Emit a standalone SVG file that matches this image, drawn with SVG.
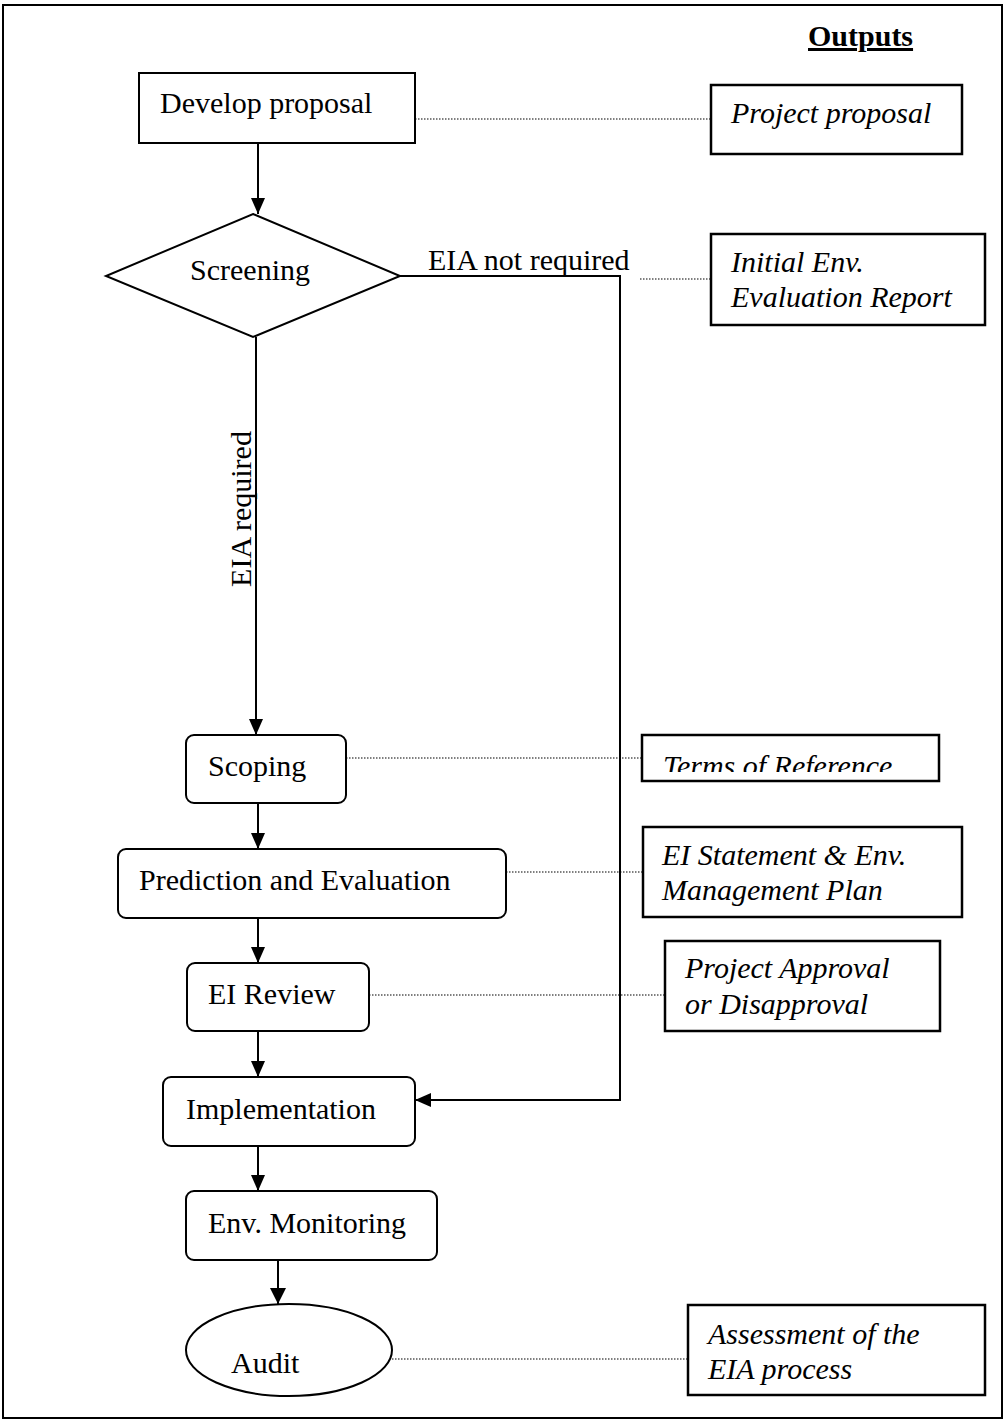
<svg xmlns="http://www.w3.org/2000/svg" width="1005" height="1421" viewBox="0 0 1005 1421">
<style>
text{font-family:"Liberation Serif","Times New Roman",serif;font-size:30px;fill:#000}
.it{font-style:italic}
.box{fill:#fff;stroke:#000;stroke-width:2}
.out{fill:#fff;stroke:#000;stroke-width:2.5}
.ln{fill:none;stroke:#000;stroke-width:2}
.dot{fill:none;stroke:#000;stroke-width:1.2;stroke-dasharray:1.5 1.5}
</style>
<defs>
<marker id="ah" viewBox="0 0 16 14" refX="16" refY="7" markerWidth="16" markerHeight="14" markerUnits="userSpaceOnUse" orient="auto">
<path d="M0,0 L16,7 L0,14 Z" fill="#000"/>
</marker>
<marker id="ah2" viewBox="0 0 16 16" refX="16" refY="8" markerWidth="16" markerHeight="16" markerUnits="userSpaceOnUse" orient="auto">
<path d="M0,0 L16,8 L0,16 Z" fill="#000"/>
</marker>
<clipPath id="torclip"><rect x="643" y="736" width="296" height="36"/></clipPath>
</defs>
<rect x="3" y="5" width="999" height="1413" fill="#fff" stroke="#000" stroke-width="2"/>
<g id="outputs-title">
<text x="808" y="46" font-weight="bold" text-decoration="underline">Outputs</text>
</g>
<g id="connectors">
<line class="ln" x1="258" y1="143" x2="258" y2="214" marker-end="url(#ah)"/>
<line class="ln" x1="256" y1="337" x2="256" y2="735" marker-end="url(#ah)"/>
<polyline class="ln" points="400,276 620,276 620,1100 415,1100" marker-end="url(#ah)"/>
<line class="ln" x1="258" y1="803" x2="258" y2="849" marker-end="url(#ah)"/>
<line class="ln" x1="258" y1="918" x2="258" y2="963" marker-end="url(#ah)"/>
<line class="ln" x1="258" y1="1031" x2="258" y2="1077" marker-end="url(#ah)"/>
<line class="ln" x1="258" y1="1146" x2="258" y2="1191" marker-end="url(#ah)"/>
<line class="ln" x1="278" y1="1260" x2="278" y2="1304" stroke-width="2.5" marker-end="url(#ah2)"/>
<line class="dot" x1="415" y1="119" x2="711" y2="119"/>
<line class="dot" x1="640" y1="279" x2="711" y2="279"/>
<line class="dot" x1="346" y1="758" x2="643" y2="758"/>
<line class="dot" x1="506" y1="872" x2="643" y2="872"/>
<line class="dot" x1="369" y1="995" x2="665" y2="995"/>
<line class="dot" x1="392" y1="1359" x2="688" y2="1359"/>
<text x="428" y="270">EIA not required</text>
<text transform="translate(251,509) rotate(-90)" text-anchor="middle">EIA required</text>
</g>
<g id="develop">
<rect class="box" x="139" y="73" width="276" height="70"/>
<text x="160" y="113">Develop proposal</text>
</g>
<g id="screening">
<polygon class="box" points="253,214 400,276 253,337 106,276"/>
<text x="250" y="280" text-anchor="middle">Screening</text>
</g>
<g id="scoping">
<rect class="box" x="186" y="735" width="160" height="68" rx="8"/>
<text x="208" y="776">Scoping</text>
</g>
<g id="prediction">
<rect class="box" x="118" y="849" width="388" height="69" rx="8"/>
<text x="139" y="890">Prediction and Evaluation</text>
</g>
<g id="review">
<rect class="box" x="187" y="963" width="182" height="68" rx="8"/>
<text x="208" y="1004">EI Review</text>
</g>
<g id="implementation">
<rect class="box" x="163" y="1077" width="252" height="69" rx="8"/>
<text x="186" y="1119">Implementation</text>
</g>
<g id="monitoring">
<rect class="box" x="186" y="1191" width="251" height="69" rx="8"/>
<text x="208" y="1233">Env. Monitoring</text>
</g>
<g id="audit">
<ellipse class="box" cx="289" cy="1350" rx="103" ry="46"/>
<text x="231" y="1373">Audit</text>
</g>
<g id="out-proposal">
<rect class="out" x="711" y="85" width="251" height="69"/>
<text class="it" x="731" y="123">Project proposal</text>
</g>
<g id="out-initial">
<rect class="out" x="711" y="234" width="274" height="91"/>
<text class="it" x="731" y="272">Initial Env.</text>
<text class="it" x="731" y="307">Evaluation Report</text>
</g>
<g id="out-tor">
<rect class="out" x="642" y="735" width="297" height="46"/>
<text class="it" x="663" y="776" clip-path="url(#torclip)">Terms of Reference</text>
</g>
<g id="out-eis">
<rect class="out" x="643" y="827" width="319" height="90"/>
<text class="it" x="662" y="865">EI Statement &amp; Env.</text>
<text class="it" x="662" y="900">Management Plan</text>
</g>
<g id="out-approval">
<rect class="out" x="665" y="941" width="275" height="90"/>
<text class="it" x="685" y="978">Project Approval</text>
<text class="it" x="685" y="1014">or Disapproval</text>
</g>
<g id="out-assessment">
<rect class="out" x="688" y="1305" width="297" height="90"/>
<text class="it" x="708" y="1344">Assessment of the</text>
<text class="it" x="708" y="1379">EIA process</text>
</g>
</svg>
